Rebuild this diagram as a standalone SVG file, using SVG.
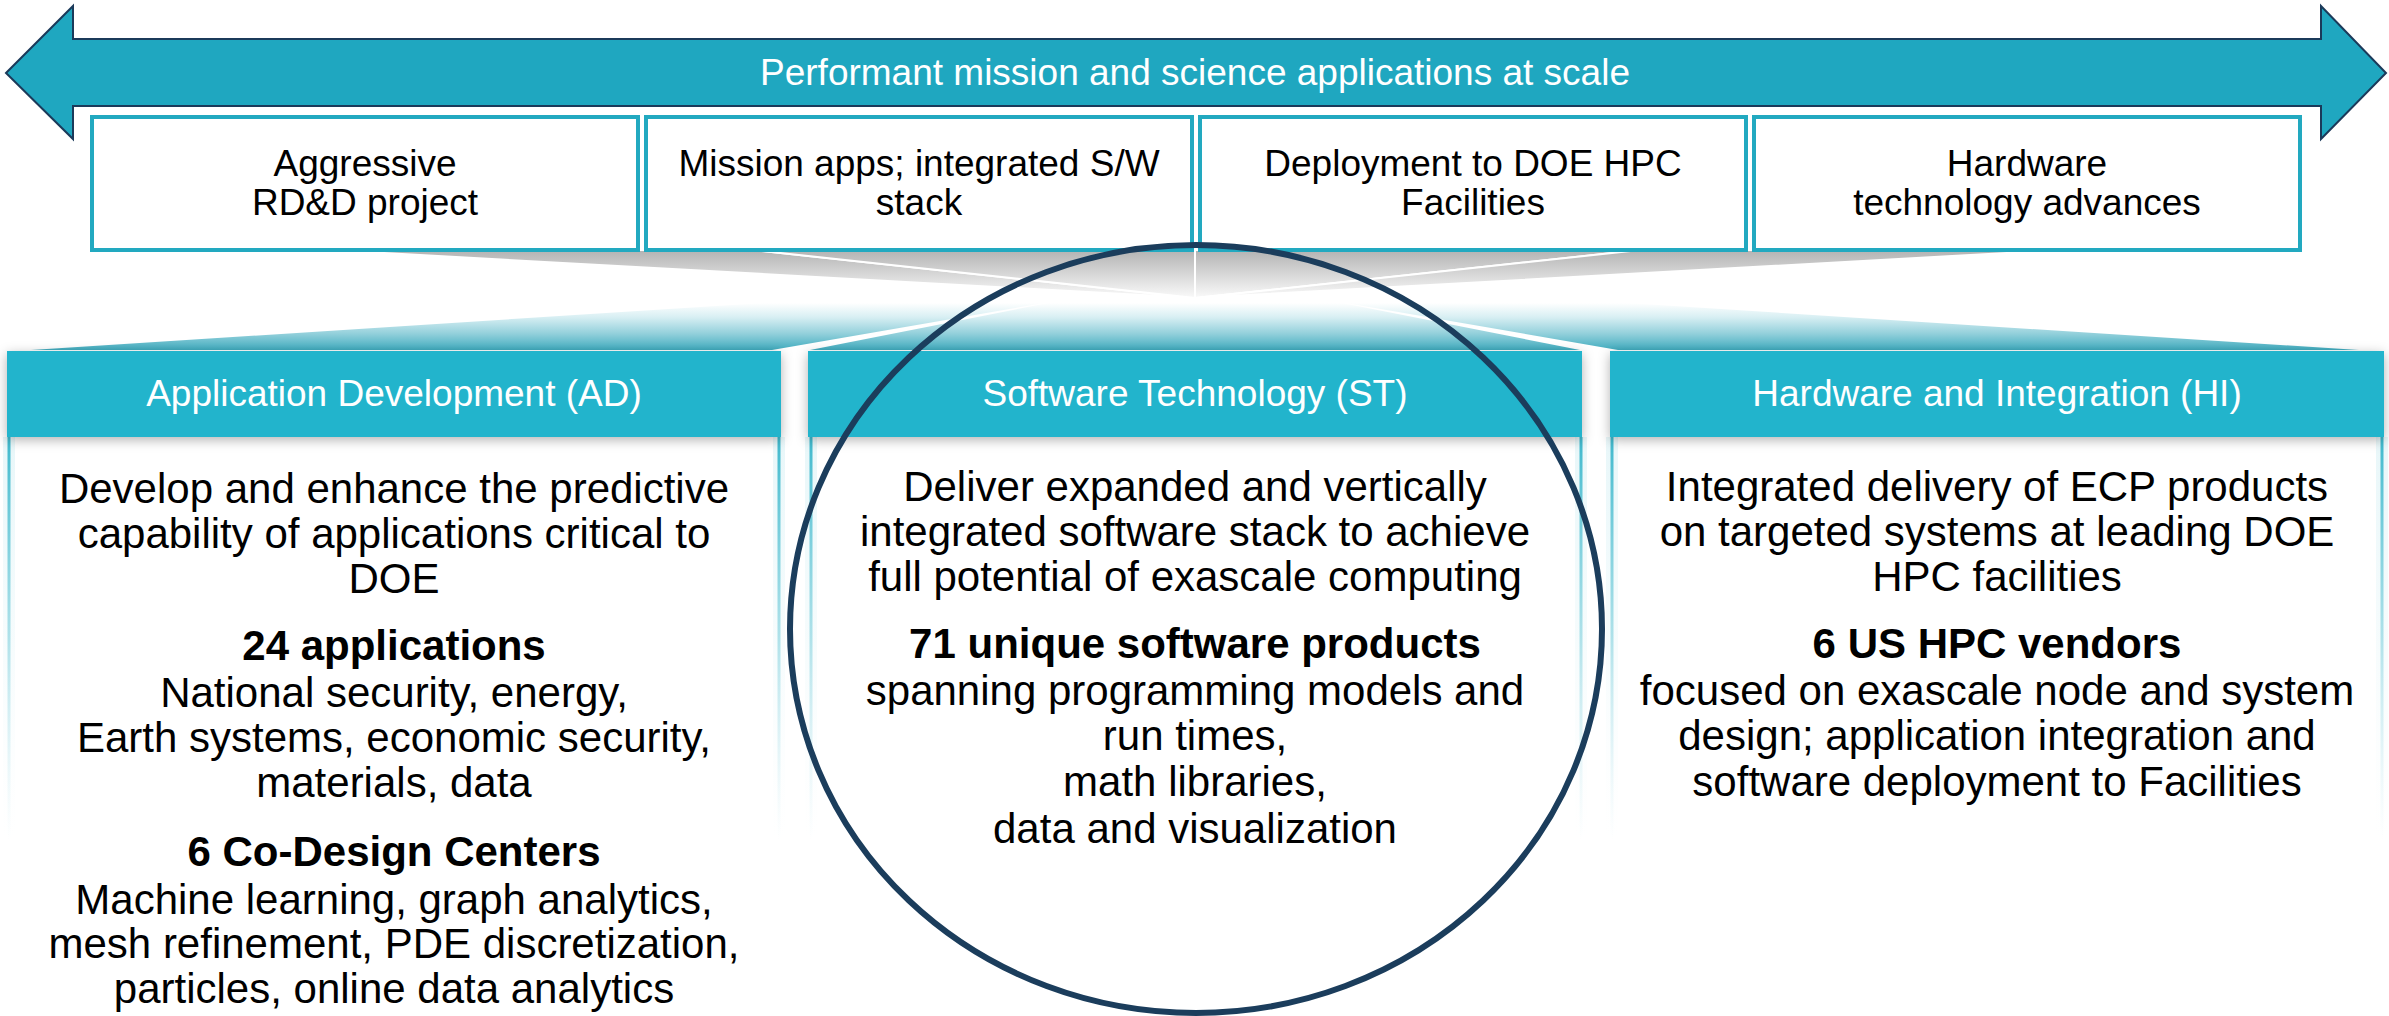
<svg xmlns="http://www.w3.org/2000/svg" width="2389" height="1016" viewBox="0 0 2389 1016">
  <style>
    .sans { font-family: "Liberation Sans", Arial, sans-serif; }
    .banner-fill { fill: #1fa7c0; stroke: #1b3a5a; stroke-width: 2; }
    .banner-txt { font-size: 37px; fill: #ffffff; text-anchor: middle; }
    .box { fill: #ffffff; stroke: #22a9c0; stroke-width: 4; }
    .box-txt { font-size: 37px; fill: #000000; text-anchor: middle; }
    .hdr { fill: #24b4cc; filter: url(#hdrShadow); }
    .hdr-txt { font-size: 37px; fill: #ffffff; text-anchor: middle; }
    .body-txt { font-size: 42px; fill: #000000; text-anchor: middle; }
    .b { font-weight: bold; }
    .edge { stroke: url(#edgeFade); stroke-width: 3; fill: none; }
    .edge-glow { stroke: url(#edgeFade); stroke-width: 12; opacity: 0.12; fill: none; }
    .grey-sector { fill: url(#greyFan); stroke: #ffffff; stroke-width: 2; stroke-linejoin: round; }
    .teal-sector { fill: url(#tealFan); }
    .focus { fill: none; stroke: #1b3d5c; stroke-width: 6; }
  </style>
  <defs>
    <linearGradient id="greyFan" gradientUnits="userSpaceOnUse" x1="0" y1="250" x2="0" y2="298">
      <stop offset="0" stop-color="#b3b3b3"/>
      <stop offset="0.6" stop-color="#dedede"/>
      <stop offset="1" stop-color="#fafafa"/>
    </linearGradient>
    <linearGradient id="tealFan" gradientUnits="userSpaceOnUse" x1="0" y1="303" x2="0" y2="350">
      <stop offset="0" stop-color="#ffffff"/>
      <stop offset="0.3" stop-color="#d8eff3"/>
      <stop offset="0.65" stop-color="#93d0db"/>
      <stop offset="1" stop-color="#40acbf"/>
    </linearGradient>
    <linearGradient id="edgeFade" gradientUnits="userSpaceOnUse" x1="0" y1="437" x2="0" y2="840">
      <stop offset="0" stop-color="#3fb9cd" stop-opacity="1"/>
      <stop offset="0.5" stop-color="#7fd0dd" stop-opacity="0.6"/>
      <stop offset="1" stop-color="#bfe6ee" stop-opacity="0"/>
    </linearGradient>
    <filter id="hdrShadow" x="-5%" y="-30%" width="110%" height="160%">
      <feDropShadow dx="0" dy="3" stdDeviation="6" flood-color="#000000" flood-opacity="0.3"/>
    </filter>
  </defs>

  <rect width="2389" height="1016" fill="#ffffff"/>

  <!-- double-headed banner across the top -->
  <g id="banner">
    <polygon class="banner-fill" points="6,73 73,6 73,39 2321,39 2321,6 2386,73 2321,139 2321,106 73,106 73,139"/>
    <text class="sans banner-txt" x="1195" y="85">Performant mission and science applications at scale</text>
  </g>

  <!-- grey funnel under the four boxes and teal fan over the three pillars -->
  <g id="connectors">
    <polygon class="grey-sector" points="330,250 753,250 1195,298"/>
    <polygon class="grey-sector" points="753,250 1195,250 1195,298"/>
    <polygon class="grey-sector" points="1195,250 1640,250 1195,298"/>
    <polygon class="grey-sector" points="1640,250 2060,250 1195,298"/>
    <polygon class="teal-sector" points="31,350 772,350 1044,303 763,303"/>
    <polygon class="teal-sector" points="810,350 1580,350 1342,303 1048,303"/>
    <polygon class="teal-sector" points="1618,350 2359,350 1627,303 1346,303"/>
  </g>

  <!-- four characteristic boxes -->
  <g id="box-rdd">
    <rect class="box" x="92" y="117" width="546" height="133"/>
    <text class="sans box-txt" x="365" y="176">Aggressive</text>
    <text class="sans box-txt" x="365" y="215">RD&amp;D project</text>
  </g>
  <g id="box-apps">
    <rect class="box" x="646" y="117" width="546" height="133"/>
    <text class="sans box-txt" x="919" y="176">Mission apps; integrated S/W</text>
    <text class="sans box-txt" x="919" y="215">stack</text>
  </g>
  <g id="box-deploy">
    <rect class="box" x="1200" y="117" width="546" height="133"/>
    <text class="sans box-txt" x="1473" y="176">Deployment to DOE HPC</text>
    <text class="sans box-txt" x="1473" y="215">Facilities</text>
  </g>
  <g id="box-hw">
    <rect class="box" x="1754" y="117" width="546" height="133"/>
    <text class="sans box-txt" x="2027" y="176">Hardware</text>
    <text class="sans box-txt" x="2027" y="215">technology advances</text>
  </g>

  <!-- pillar: Application Development -->
  <g id="pillar-ad">
    <line class="edge-glow" x1="9" y1="437" x2="9" y2="1016"/>
    <line class="edge-glow" x1="779" y1="437" x2="779" y2="1016"/>
    <line class="edge" x1="9" y1="437" x2="9" y2="1016"/>
    <line class="edge" x1="779" y1="437" x2="779" y2="1016"/>
    <rect class="hdr" x="7" y="351" width="774" height="86"/>
    <text class="sans hdr-txt" x="394" y="406">Application Development (AD)</text>
    <text class="sans body-txt" x="394" y="503">Develop and enhance the predictive</text>
    <text class="sans body-txt" x="394" y="548">capability of applications critical to</text>
    <text class="sans body-txt" x="394" y="593">DOE</text>
    <text class="sans body-txt b" x="394" y="660">24 applications</text>
    <text class="sans body-txt" x="394" y="707">National security, energy,</text>
    <text class="sans body-txt" x="394" y="752">Earth systems, economic security,</text>
    <text class="sans body-txt" x="394" y="797">materials, data</text>
    <text class="sans body-txt b" x="394" y="866">6 Co-Design Centers</text>
    <text class="sans body-txt" x="394" y="914">Machine learning, graph analytics,</text>
    <text class="sans body-txt" x="394" y="958">mesh refinement, PDE discretization,</text>
    <text class="sans body-txt" x="394" y="1003">particles, online data analytics</text>
  </g>

  <!-- pillar: Software Technology -->
  <g id="pillar-st">
    <line class="edge-glow" x1="811" y1="437" x2="811" y2="1016"/>
    <line class="edge-glow" x1="1581" y1="437" x2="1581" y2="1016"/>
    <line class="edge" x1="811" y1="437" x2="811" y2="1016"/>
    <line class="edge" x1="1581" y1="437" x2="1581" y2="1016"/>
    <rect class="hdr" x="808" y="351" width="774" height="86"/>
    <text class="sans hdr-txt" x="1195" y="406">Software Technology (ST)</text>
    <text class="sans body-txt" x="1195" y="501">Deliver expanded and vertically</text>
    <text class="sans body-txt" x="1195" y="546">integrated software stack to achieve</text>
    <text class="sans body-txt" x="1195" y="591">full potential of exascale computing</text>
    <text class="sans body-txt b" x="1195" y="658">71 unique software products</text>
    <text class="sans body-txt" x="1195" y="705">spanning programming models and</text>
    <text class="sans body-txt" x="1195" y="750">run times,</text>
    <text class="sans body-txt" x="1195" y="796">math libraries,</text>
    <text class="sans body-txt" x="1195" y="843">data and visualization</text>
  </g>

  <!-- pillar: Hardware and Integration -->
  <g id="pillar-hi">
    <line class="edge-glow" x1="1612" y1="437" x2="1612" y2="1016"/>
    <line class="edge-glow" x1="2382" y1="437" x2="2382" y2="1016"/>
    <line class="edge" x1="1612" y1="437" x2="1612" y2="1016"/>
    <line class="edge" x1="2382" y1="437" x2="2382" y2="1016"/>
    <rect class="hdr" x="1610" y="351" width="774" height="86"/>
    <text class="sans hdr-txt" x="1997" y="406">Hardware and Integration (HI)</text>
    <text class="sans body-txt" x="1997" y="501">Integrated delivery of ECP products</text>
    <text class="sans body-txt" x="1997" y="546">on targeted systems at leading DOE</text>
    <text class="sans body-txt" x="1997" y="591">HPC facilities</text>
    <text class="sans body-txt b" x="1997" y="658">6 US HPC vendors</text>
    <text class="sans body-txt" x="1997" y="705">focused on exascale node and system</text>
    <text class="sans body-txt" x="1997" y="750">design; application integration and</text>
    <text class="sans body-txt" x="1997" y="796">software deployment to Facilities</text>
  </g>

  <!-- highlight ring around the Software Technology pillar -->
  <g id="st-highlight">
    <ellipse class="focus" cx="1196" cy="629" rx="406" ry="384"/>
  </g>
</svg>
